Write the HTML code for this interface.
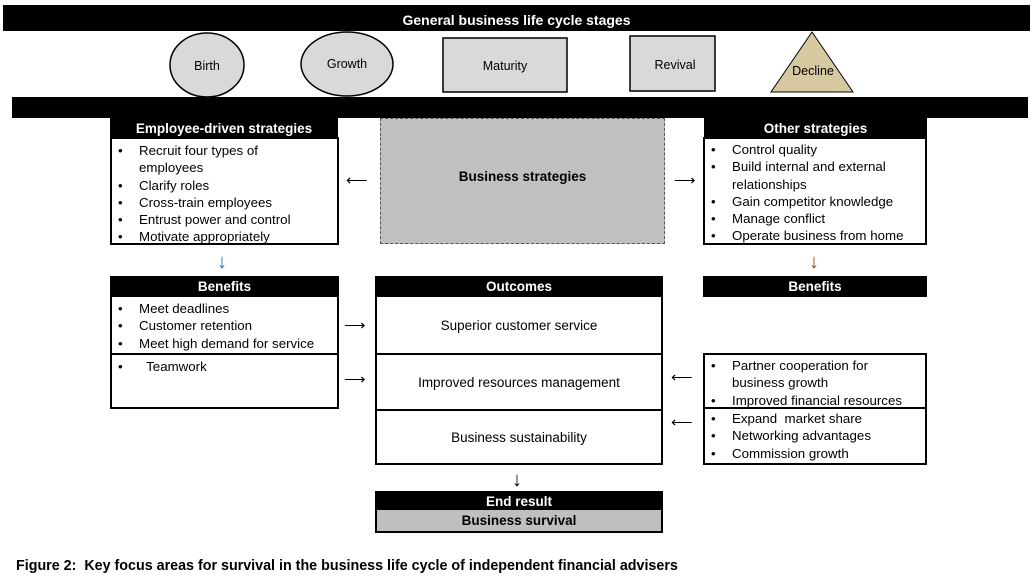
<!DOCTYPE html>
<html><head><style>
body{margin:0;width:1032px;height:583px;background:#fff;position:relative;font-family:"Liberation Sans",Arial,sans-serif;overflow:hidden}
div{position:absolute;box-sizing:border-box}
.bk{background:#000;color:#fff;font-weight:bold;font-size:13.5px;text-align:center}
.box{border:2px solid #000;background:#fff}
ul{margin:0;padding:0;list-style:none;font-size:13.3px;line-height:17.3px}
li{position:relative;padding-left:27px}
li:before{content:"•";position:absolute;left:6px}
.c{display:flex;align-items:center;justify-content:center;font-size:13.5px}
.ar{font-size:15px}
.dn{font-size:20px;line-height:20px}
</style></head><body>
<div class="bk" style="left:3px;top:5px;width:1027px;height:26px;line-height:30px;font-size:14px">General business life cycle stages</div>
<svg style="position:absolute;left:0;top:0" width="1032" height="110">
<ellipse cx="207" cy="65" rx="37" ry="32" fill="#d9d9d9" stroke="#000" stroke-width="1.5"/>
<ellipse cx="347" cy="64" rx="46" ry="32" fill="#d9d9d9" stroke="#000" stroke-width="1.5"/>
<rect x="443" y="38" width="124" height="54" fill="#d9d9d9" stroke="#000" stroke-width="1.5"/>
<rect x="630" y="36" width="85" height="55" fill="#d9d9d9" stroke="#000" stroke-width="1.5"/>
<polygon points="812,32 853,92 771,92" fill="#d6c9a1" stroke="#000" stroke-width="1"/>
<g font-family="Liberation Sans,Arial" font-size="12.5" text-anchor="middle">
<text x="207" y="70">Birth</text><text x="347" y="68">Growth</text><text x="505" y="70">Maturity</text><text x="675" y="69">Revival</text><text x="813" y="75">Decline</text></g>
</svg>
<div class="bk" style="left:12px;top:97px;width:1016px;height:21px"></div>

<div class="bk" style="left:110px;top:117px;width:228px;height:21px;line-height:23px">Employee-driven strategies</div>
<div class="box" style="left:110px;top:137px;width:229px;height:108px;padding-top:3px"><ul>
<li>Recruit four types of<br>employees</li><li>Clarify roles</li><li>Cross-train employees</li><li>Entrust power and control</li><li>Motivate appropriately</li></ul></div>

<div class="c" style="left:380px;top:118px;width:285px;height:126px;background:#c0c0c0;border:1px dashed #555;font-weight:bold;padding-bottom:10px">Business strategies</div>
<div class="ar" style="left:346px;top:171px">⟵</div>
<div class="ar" style="left:674px;top:171px">⟶</div>

<div class="bk" style="left:704px;top:118px;width:223px;height:20px;line-height:22px">Other strategies</div>
<div class="box" style="left:703px;top:137px;width:224px;height:108px;padding-top:2px"><ul>
<li>Control quality</li><li>Build internal and external<br>relationships</li><li>Gain competitor knowledge</li><li>Manage conflict</li><li>Operate business from home</li></ul></div>

<div class="dn" style="left:217px;top:252px;color:#1a6fb0">↓</div>
<div class="dn" style="left:809px;top:252px;color:#8a4a1a">↓</div>

<div class="bk" style="left:110px;top:276px;width:229px;height:21px;line-height:22px">Benefits</div>
<div class="box" style="left:110px;top:295px;width:229px;height:60px;padding-top:3px"><ul>
<li>Meet deadlines</li><li>Customer retention</li><li>Meet high demand for service</li></ul></div>
<div class="box" style="left:110px;top:353px;width:229px;height:56px;padding-top:3px"><ul><li>&nbsp; Teamwork</li></ul></div>

<div class="bk" style="left:375px;top:276px;width:288px;height:21px;line-height:22px">Outcomes</div>
<div class="box c" style="left:375px;top:295px;width:288px;height:60px">Superior customer service</div>
<div class="box c" style="left:375px;top:353px;width:288px;height:58px">Improved resources management</div>
<div class="box c" style="left:375px;top:409px;width:288px;height:56px">Business sustainability</div>
<div class="ar" style="left:344px;top:316px">⟶</div>
<div class="ar" style="left:344px;top:370px">⟶</div>
<div class="ar" style="left:671px;top:368px">⟵</div>
<div class="ar" style="left:671px;top:413px">⟵</div>

<div class="bk" style="left:703px;top:276px;width:224px;height:21px;line-height:22px">Benefits</div>
<div class="box" style="left:703px;top:353px;width:224px;height:56px;padding-top:2px"><ul>
<li>Partner cooperation for<br>business growth</li><li>Improved financial resources</li></ul></div>
<div class="box" style="left:703px;top:407px;width:224px;height:58px;padding-top:1px"><ul>
<li>Expand &nbsp;market share</li><li>Networking advantages</li><li>Commission growth</li></ul></div>

<div class="dn" style="left:512px;top:470px">↓</div>
<div class="bk" style="left:375px;top:491px;width:288px;height:20px;line-height:21px">End result</div>
<div style="left:375px;top:510px;width:288px;height:23px;background:#bfbfbf;border:2px solid #000;border-top:none;text-align:center;font-weight:bold;font-size:13.5px;line-height:21px">Business survival</div>

<div style="left:16px;top:558px;font-weight:bold;font-size:14.3px;white-space:nowrap">Figure 2: &nbsp;Key focus areas for survival in the business life cycle of independent financial advisers</div>
</body></html>
